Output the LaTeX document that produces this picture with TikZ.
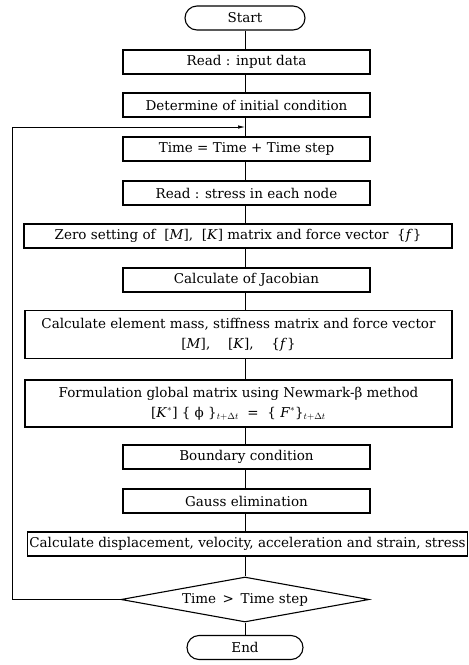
\documentclass[tikz,border=0pt]{standalone}
\usepackage{fontspec}
\setmainfont{DejaVu Serif}
\usetikzlibrary{shapes.geometric, shapes.misc, arrows.meta, positioning, calc}

\tikzset{
    boxfont/.style={font=\fontsize{13.5}{20}\selectfont},
    procbox/.style={draw, line width=1.1pt, minimum width=247pt, minimum height=24pt,
        inner sep=2pt, align=center, boxfont},
    termbox/.style={draw, line width=1.1pt, rounded rectangle, minimum height=24pt,
        inner sep=2pt, boxfont},
    decbox/.style={draw, diamond, aspect=5.5, line width=1.1pt, minimum width=248pt,
        minimum height=45pt, inner sep=0pt, boxfont},
    flow/.style={line width=0.7pt},
}

\begin{document}
\begin{tikzpicture}[x=1pt, y=-1pt]
    \useasboundingbox (0,0) rectangle (469,665);

    % Flow chart steps
    \node[termbox, minimum width=124pt] (start) at (245,18) {Start};
    \node[procbox] (read) at (246.5,62) {Read : input data};
    \node[procbox] (det) at (246.5,105) {Determine of initial condition};
    \node[procbox] (time) at (246.5,149) {Time = Time + Time step};
    \node[procbox] (stress) at (246.5,193) {Read : stress in each node};
    \node[procbox, minimum width=428pt] (zero) at (238,236)
        {Zero setting of \ [\textit{M}], \ [\textit{K}] matrix and force vector \ \{\textit{f}\}};
    \node[procbox] (jac) at (246.5,280) {Calculate of Jacobian};
    \node[procbox, minimum width=427pt, minimum height=48pt] (elem) at (238.5,334.5)
        {Calculate element mass, stiffness matrix and force vector\\{}%
         [\textit{M}], \quad [\textit{K}], \quad \{\textit{f}\}};
    \node[procbox, minimum width=427pt, minimum height=47pt] (form) at (238.5,403.5)
        {Formulation global matrix using Newmark-β method\\{}%
         [\textit{K}$^*$] \{ ϕ \}$_{t+\Delta t}$ \ = \ \{ \textit{F}$^*$\}$_{t+\Delta t}$};
    \node[procbox] (bound) at (246.5,457) {Boundary condition};
    \node[procbox] (gauss) at (246.5,501) {Gauss elimination};
    \node[procbox, minimum width=439pt] (disp) at (247.5,544)
        {Calculate displacement, velocity, acceleration and strain, stress};
    \node[decbox] (dec) at (245,599.5) {Time \,>\, Time step};
    \node[termbox, minimum width=120pt] (end) at (245,647.5) {End};

    % Connectors along the spine
    \coordinate (spine) at (245,0);
    \foreach \a/\b in {start/read, read/det, det/time, time/stress, stress/zero,
        zero/jac, jac/elem, elem/form, form/bound, bound/gauss, gauss/disp,
        disp/dec, dec/end}
        \draw[flow] (\a.south -| spine) -- (\b.north -| spine);

    % Loop back
    \coordinate (loopin) at (245,127);
    \coordinate (loopx) at (12,0);
    \draw[flow, -{Latex[length=7pt, width=3.5pt]}] (dec.west) -| (loopx |- loopin) -- (loopin);
\end{tikzpicture}
\end{document}
